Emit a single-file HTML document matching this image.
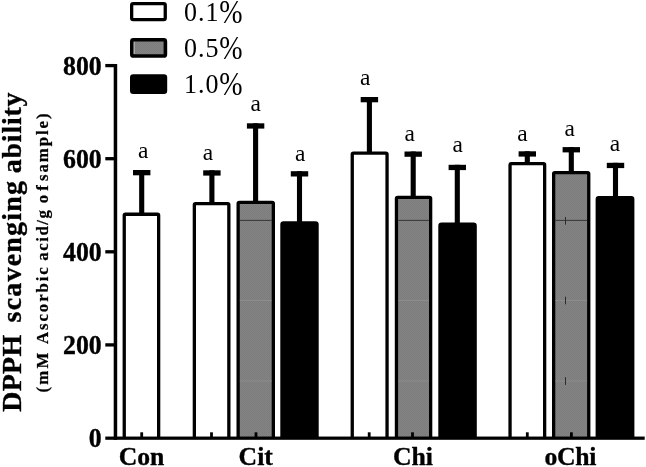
<!DOCTYPE html>
<html><head><meta charset="utf-8"><title>DPPH scavenging ability</title>
<style>html,body{margin:0;padding:0;background:#fff}body{width:646px;height:467px;overflow:hidden}svg{display:block;filter:grayscale(1)}text{font-family:"Liberation Serif",serif;fill:#000}.b{font-weight:bold;stroke:#000;stroke-width:.35}</style>
</head><body>
<svg width="646" height="467" viewBox="0 0 646 467">
<defs><pattern id="dg" width="2" height="2" patternUnits="userSpaceOnUse"><rect width="2" height="2" fill="#848484"/><rect width="1" height="1" fill="#7c7c7c"/><rect x="1" y="1" width="1" height="1" fill="#7c7c7c"/></pattern></defs>
<rect width="646" height="467" fill="#fff"/>
<rect x="139.15" y="170.0" width="5.1" height="44.6" fill="#000"/>
<rect x="133.00" y="170.0" width="17.4" height="5.3" fill="#000"/>
<path d="M124.25 438.80V215.45q0 -1.2 1.2 -1.2H157.45q1.2 0 1.2 1.2V438.80" fill="#fff" stroke="#000" stroke-width="3.3"/>
<rect x="209.35" y="170.3" width="5.1" height="33.6" fill="#000"/>
<rect x="203.20" y="170.3" width="17.4" height="5.3" fill="#000"/>
<path d="M194.35 438.80V204.75q0 -1.2 1.2 -1.2H227.65q1.2 0 1.2 1.2V438.80" fill="#fff" stroke="#000" stroke-width="3.3"/>
<rect x="253.05" y="123.3" width="5.1" height="79.5" fill="#000"/>
<rect x="246.90" y="123.3" width="17.4" height="5.3" fill="#000"/>
<path d="M238.15 438.80V203.65q0 -1.2 1.2 -1.2H272.15q1.2 0 1.2 1.2V438.80" fill="url(#dg)" stroke="#000" stroke-width="3.3"/>
<rect x="239.8" y="219.9" width="31.9" height="0.9" fill="#2e2e2e"/>
<rect x="239.8" y="300.2" width="31.9" height="0.8" fill="#909090"/>
<rect x="239.8" y="380.6" width="31.9" height="0.8" fill="#909090"/>
<rect x="296.95" y="171.2" width="5.1" height="52.1" fill="#000"/>
<rect x="290.80" y="171.2" width="17.4" height="5.3" fill="#000"/>
<path d="M281.95 438.80V224.55q0 -1.6 1.6 -1.6H315.45q1.6 0 1.6 1.6V438.80" fill="#000" stroke="#000" stroke-width="3.3"/>
<rect x="366.85" y="97.0" width="5.1" height="56.5" fill="#000"/>
<rect x="360.70" y="97.0" width="17.4" height="5.3" fill="#000"/>
<path d="M352.25 438.80V154.35q0 -1.2 1.2 -1.2H385.85q1.2 0 1.2 1.2V438.80" fill="#fff" stroke="#000" stroke-width="3.3"/>
<rect x="410.65" y="151.5" width="5.1" height="46.2" fill="#000"/>
<rect x="404.50" y="151.5" width="17.4" height="5.3" fill="#000"/>
<path d="M396.45 438.80V198.55q0 -1.2 1.2 -1.2H429.45q1.2 0 1.2 1.2V438.80" fill="url(#dg)" stroke="#000" stroke-width="3.3"/>
<rect x="398.1" y="219.9" width="30.9" height="0.9" fill="#2e2e2e"/>
<rect x="398.1" y="300.2" width="30.9" height="0.8" fill="#909090"/>
<rect x="398.1" y="380.6" width="30.9" height="0.8" fill="#909090"/>
<rect x="454.75" y="164.8" width="5.1" height="59.7" fill="#000"/>
<rect x="448.60" y="164.8" width="17.4" height="5.3" fill="#000"/>
<path d="M439.95 438.80V225.75q0 -1.6 1.6 -1.6H473.55q1.6 0 1.6 1.6V438.80" fill="#000" stroke="#000" stroke-width="3.3"/>
<rect x="524.75" y="151.3" width="5.1" height="12.7" fill="#000"/>
<rect x="518.60" y="151.3" width="17.4" height="5.3" fill="#000"/>
<path d="M510.05 438.80V164.85q0 -1.2 1.2 -1.2H543.45q1.2 0 1.2 1.2V438.80" fill="#fff" stroke="#000" stroke-width="3.3"/>
<rect x="568.75" y="147.1" width="5.1" height="25.9" fill="#000"/>
<rect x="562.60" y="147.1" width="17.4" height="5.3" fill="#000"/>
<path d="M553.65 438.80V173.85q0 -1.2 1.2 -1.2H587.55q1.2 0 1.2 1.2V438.80" fill="url(#dg)" stroke="#000" stroke-width="3.3"/>
<rect x="555.3" y="219.9" width="31.8" height="0.9" fill="#2e2e2e"/>
<rect x="555.3" y="300.2" width="31.8" height="0.8" fill="#909090"/>
<rect x="555.3" y="380.6" width="31.8" height="0.8" fill="#909090"/>
<rect x="612.95" y="162.8" width="5.1" height="35.2" fill="#000"/>
<rect x="606.80" y="162.8" width="17.4" height="5.3" fill="#000"/>
<path d="M597.25 438.80V199.25q0 -1.6 1.6 -1.6H631.15q1.6 0 1.6 1.6V438.80" fill="#000" stroke="#000" stroke-width="3.3"/>
<rect x="565" y="217.0" width="1" height="7.6" fill="#2a2a2a"/>
<rect x="565" y="296.7" width="1" height="7.6" fill="#2a2a2a"/>
<rect x="565" y="377.2" width="1" height="7.6" fill="#2a2a2a"/>
<rect x="113.7" y="64.0" width="3.5" height="375.8" fill="#000"/>
<rect x="105.3" y="436.55" width="539.4" height="3.25" fill="#000"/>
<rect x="105.3" y="343.25" width="9" height="3.3" fill="#000"/>
<rect x="105.3" y="250.15" width="9" height="3.3" fill="#000"/>
<rect x="105.3" y="157.05" width="9" height="3.3" fill="#000"/>
<rect x="105.3" y="63.95" width="9" height="3.3" fill="#000"/>
<rect x="140.3" y="432.3" width="2.8" height="5" fill="#000"/>
<rect x="210.1" y="432.3" width="2.8" height="5" fill="#000"/>
<rect x="254.6" y="432.3" width="2.8" height="5" fill="#000"/>
<rect x="367.8" y="432.3" width="2.8" height="5" fill="#000"/>
<rect x="411.1" y="432.3" width="2.8" height="5" fill="#000"/>
<rect x="525.9" y="432.3" width="2.8" height="5" fill="#000"/>
<rect x="570.0" y="432.3" width="2.8" height="5" fill="#000"/>
<text class="b" transform="translate(101.7,447.2) scale(1,1.05)" font-size="25.8" text-anchor="end">0</text>
<text class="b" transform="translate(101.7,354.1) scale(1,1.05)" font-size="25.8" text-anchor="end">200</text>
<text class="b" transform="translate(101.7,261.0) scale(1,1.05)" font-size="25.8" text-anchor="end">400</text>
<text class="b" transform="translate(101.7,167.9) scale(1,1.05)" font-size="25.8" text-anchor="end">600</text>
<text class="b" transform="translate(101.7,74.8) scale(1,1.05)" font-size="25.8" text-anchor="end">800</text>
<text class="b" transform="translate(141.5,465.0) scale(1,0.975)" font-size="25.7" text-anchor="middle">Con</text>
<text class="b" transform="translate(255.7,465.0) scale(1,0.975)" font-size="25.7" text-anchor="middle">Cit</text>
<text class="b" transform="translate(413,465.0) scale(1,0.975)" font-size="25.7" text-anchor="middle">Chi</text>
<text class="b" transform="translate(570.2,465.0) scale(1,0.975)" font-size="25.7" text-anchor="middle" letter-spacing="-0.3">oChi</text>
<text transform="translate(143.3,158.2) scale(1,0.99)" font-size="23.5" text-anchor="middle">a</text>
<text transform="translate(207.9,160.2) scale(1,0.99)" font-size="23.5" text-anchor="middle">a</text>
<text transform="translate(255.6,111.4) scale(1,0.99)" font-size="23.5" text-anchor="middle">a</text>
<text transform="translate(300.3,161.4) scale(1,0.99)" font-size="23.5" text-anchor="middle">a</text>
<text transform="translate(365.2,84.8) scale(1,0.99)" font-size="23.5" text-anchor="middle">a</text>
<text transform="translate(409.6,140.6) scale(1,0.99)" font-size="23.5" text-anchor="middle">a</text>
<text transform="translate(457.6,152.4) scale(1,0.99)" font-size="23.5" text-anchor="middle">a</text>
<text transform="translate(522.4,141.1) scale(1,0.99)" font-size="23.5" text-anchor="middle">a</text>
<text transform="translate(569.8,136.1) scale(1,0.99)" font-size="23.5" text-anchor="middle">a</text>
<text transform="translate(614.9,151.0) scale(1,0.99)" font-size="23.5" text-anchor="middle">a</text>
<rect x="131.65" y="3.55" width="33.60" height="16.10" rx="1.6" fill="#fff" stroke="#000" stroke-width="3.3"/>
<rect x="131.80" y="39.80" width="33.60" height="16.20" rx="1.6" fill="url(#dg)" stroke="#000" stroke-width="3.6"/>
<rect x="131.65" y="75.95" width="33.90" height="16.30" rx="1.6" fill="#000" stroke="#000" stroke-width="3.3"/>
<rect x="133.7" y="41.8" width="0.9" height="12.2" fill="#c4c4c4"/>
<text transform="translate(183.9,20.8) scale(1,1.08)" font-size="26" letter-spacing="1.1">0.1</text>
<text transform="translate(219.2,23.0) scale(1,1.2)" font-size="28">%</text>
<text transform="translate(183.9,57.1) scale(1,1.08)" font-size="26" letter-spacing="1.1">0.5</text>
<text transform="translate(219.2,59.3) scale(1,1.2)" font-size="28">%</text>
<text transform="translate(183.9,93.0) scale(1,1.08)" font-size="26" letter-spacing="1.1">1.0</text>
<text transform="translate(219.2,95.2) scale(1,1.2)" font-size="28">%</text>
<text class="b" transform="translate(20.6,411.8) rotate(-90)" font-size="27.9"><tspan x="0.0" letter-spacing="0.34">DPPH</tspan><tspan x="89.4" letter-spacing="1.24">scavenging</tspan><tspan x="238.6" letter-spacing="0.8">ability</tspan></text>
<text class="b" transform="translate(47.9,392.6) rotate(-90)" font-size="16.8" style="stroke-width:.25"><tspan x="0.0" letter-spacing="2.3">(mM</tspan><tspan x="48.6" letter-spacing="1.92">Ascorbic</tspan><tspan x="131.9" letter-spacing="1.55">acid/g</tspan><tspan x="189.4" letter-spacing="4.0">of</tspan><tspan x="211.6" letter-spacing="1.93">sample)</tspan></text>
</svg></body></html>
